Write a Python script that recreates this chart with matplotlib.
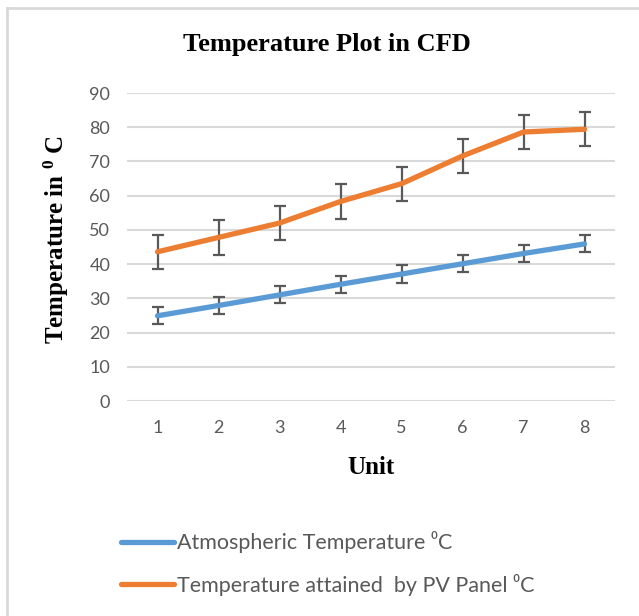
import matplotlib
matplotlib.use("Agg")
import matplotlib.pyplot as plt
from matplotlib.lines import Line2D
import numpy as np

# data
units = [1, 2, 3, 4, 5, 6, 7, 8]
atmos_temp = [24.9, 27.9, 31.0, 34.1, 37.1, 40.1, 43.1, 45.9]
panel_temp = [43.6, 47.8, 52.0, 58.3, 63.5, 71.6, 78.6, 79.4]
atmos_err = 2.5
panel_err = 5.0
yticks = [0, 10, 20, 30, 40, 50, 60, 70, 80, 90]
labels = ['Atmospheric Temperature \u2070C', 'Temperature attained  by PV Panel \u2070C']
colors = ['#5B9BD5', '#ED7D31']

plt.rcParams['mathtext.fontset'] = 'custom'
plt.rcParams['mathtext.rm'] = 'Liberation Serif'
plt.rcParams['mathtext.bf'] = 'Liberation Serif:bold'

W, H = 639, 616
fig = plt.figure(figsize=(W / 100, H / 100), dpi=100)
fig.patch.set_facecolor('white')

# gray chart border (only left/top visible in the crop)
fig.add_artist(Line2D([7 / W, 7 / W], [0, 1 - 8 / H], color='#D9D9D9', lw=2))
fig.add_artist(Line2D([7 / W, 1], [1 - 8 / H, 1 - 8 / H], color='#D9D9D9', lw=2))

ax = fig.add_axes([127 / W, 1 - 401 / H, (615 - 127) / W, (401 - 93) / H])
x = np.arange(len(units))

ax.errorbar(x, atmos_temp, yerr=atmos_err, color=colors[0], lw=3.8,
            ecolor='#595959', elinewidth=1.6, capsize=4, capthick=1.6,
            solid_capstyle='round', zorder=3)
ax.errorbar(x, panel_temp, yerr=panel_err, color=colors[1], lw=3.8,
            ecolor='#595959', elinewidth=1.6, capsize=4, capthick=1.6,
            solid_capstyle='round', zorder=3)

ax.set_xlim(-0.5, len(units) - 0.5)
ax.set_ylim(0, 90)
ax.set_yticks(yticks)
ax.set_xticks(x)
ax.set_xticklabels([str(u) for u in units])
ax.grid(axis='y', color='#D9D9D9', lw=1.5)
ax.set_axisbelow(True)
for s in ax.spines.values():
    s.set_visible(False)
ax.tick_params(length=0, colors='#595959', labelsize=13)
ax.tick_params(axis='y', pad=12)
ax.tick_params(axis='x', pad=14)
for lab in ax.get_xticklabels() + ax.get_yticklabels():
    lab.set_family('Lato')

fig.text(327 / W, 1 - 45 / H, 'Temperature Plot in CFD', ha='center', va='center',
         family='Liberation Serif', weight='bold', fontsize=19)
fig.text(371 / W, 1 - 468 / H, 'Unit', ha='center', va='center',
         family='Liberation Serif', weight='bold', fontsize=18)
fig.text(56 / W, 1 - 240 / H, r'Temperature in $\mathbf{^0}$ C', ha='center', va='center',
         rotation=90, family='Liberation Serif', weight='bold', fontsize=18)

handles = [Line2D([], [], color=c, lw=3.8, solid_capstyle='round') for c in colors]
leg = fig.legend(handles, labels, loc='upper left', bbox_to_anchor=(102 / W, 1 - 512 / H),
                 frameon=False, handlelength=2.45, handletextpad=0.15, labelspacing=0.95,
                 prop={'family': ['Lato', 'DejaVu Sans'], 'size': 15.5})
for t in leg.get_texts():
    t.set_color('#595959')

fig.savefig('out.png', dpi=100)
